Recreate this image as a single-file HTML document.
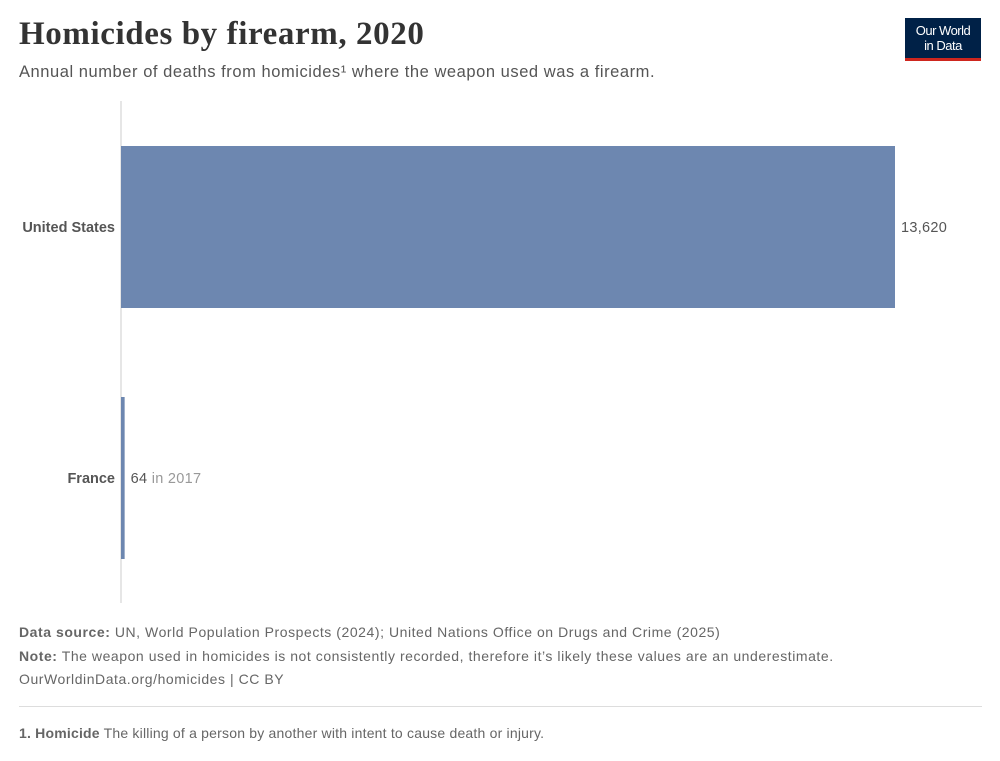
<!DOCTYPE html>
<html><head><meta charset="utf-8"><style>
body{margin:0;width:1000px;height:761px;background:#fff;font-family:"Liberation Sans",sans-serif;position:relative;overflow:hidden}
.a{position:absolute;white-space:nowrap}
</style></head><body>
<div class="a" style="left:19px;top:16px;font-family:'Liberation Serif',serif;font-size:33px;font-weight:bold;color:#333;letter-spacing:0.6px">Homicides by firearm, 2020</div>
<div class="a" style="left:19px;top:63px;font-size:16.5px;color:#555;letter-spacing:0.55px">Annual number of deaths from homicides¹ where the weapon used was a firearm.</div>
<div class="a" style="left:905px;top:18px;width:76px;background:#002147;border-bottom:3px solid #ce261e;color:#fff;font-size:13px;line-height:15px;text-align:center;padding-top:5px;height:35px;letter-spacing:-0.5px">Our World<br>in Data</div>
<svg id="chart" class="a" style="left:0;top:0" width="1000" height="761"></svg>
<div class="a" style="left:19px;top:621px;font-size:14px;color:#666;line-height:23.5px;letter-spacing:0.55px">
<div><b>Data source:</b> UN, World Population Prospects (2024); United Nations Office on Drugs and Crime (2025)</div>
<div><b>Note:</b> The weapon used in homicides is not consistently recorded, therefore it’s likely these values are an underestimate.</div>
<div>OurWorldinData.org/homicides | CC BY</div></div>
<div class="a" style="left:19px;top:706px;width:963px;height:1px;background:#ddd"></div>
<div class="a" style="left:19px;top:725px;font-size:14px;color:#666;letter-spacing:0.2px"><b>1. Homicide</b> The killing of a person by another with intent to cause death or injury.</div>
<script>
const categories=["United States","France"];
const values=[13620,64];
const valueLabels=["13,620","64"];
const yearNotes=[""," in 2017"];
const svg=document.getElementById('chart');const NS='http://www.w3.org/2000/svg';
const x0=121,xmax=895,vmax=13620;
const x=v=>x0+(xmax-x0)*v/vmax;
const bh=162;
function mk(t,a){const e=document.createElementNS(NS,t);for(const k in a)e.setAttribute(k,a[k]);svg.appendChild(e);return e;}
const ax=mk('line',{x1:x0,x2:x0,y1:101,y2:603,stroke:'#ccc','stroke-width':1});


categories.forEach((c,i)=>{
 const y=146+i*251;
 const r=mk('rect',{x:x0,y:y,width:Math.max(1,x(values[i])-x0),height:bh,fill:'#6d87b0'});
 
 
 const l=mk('text',{x:115,y:y+bh/2+5,'text-anchor':'end','font-size':14.5,'font-weight':'bold',fill:'#555'});l.textContent=c;
 
 
 const t=mk('text',{x:x(values[i])+6,y:y+bh/2+5,'font-size':14.5,fill:'#555','letter-spacing':0.3});t.textContent=valueLabels[i];
 
 
 if(yearNotes[i]){const s=document.createElementNS(NS,'tspan');s.setAttribute('fill','#999');s.textContent=yearNotes[i];t.appendChild(s);}
});
</script>
</body></html>
